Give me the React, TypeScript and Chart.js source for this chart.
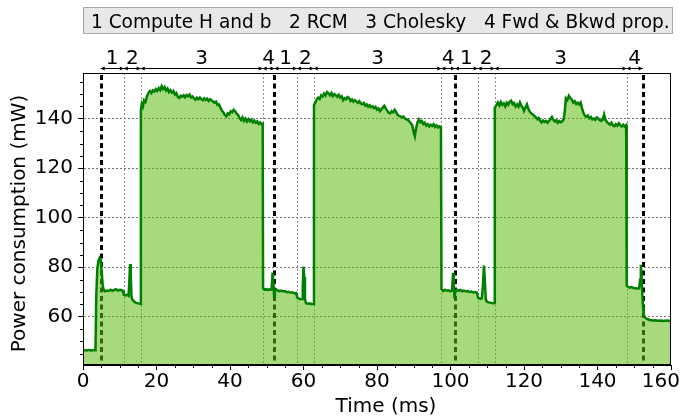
import React, { useEffect, useRef } from 'react';
import { Chart, registerables } from 'chart.js';

Chart.register(...registerables);

// ---- data (time in ms, power in mW) ----
const startIdle: [number, number][] = [
  [0, 46.3], [0.5, 46.5], [1, 46.4], [1.5, 46.6], [2, 46.5], [2.5, 46.4], [3, 46.6], [3.4, 46.5],
];
const cycle1Low: [number, number][] = [
  [3.6, 68], [3.9, 79.5], [4.2, 82.6], [4.5, 83.7], [4.8, 83.1], [5.1, 78], [5.4, 72.2], [5.7, 70.8],
  [6.0, 70.3], [6.5, 70.6], [7, 70.4], [7.5, 70.9], [8, 70.5], [8.5, 70.8], [9, 71.1], [9.5, 70.6],
  [10, 70.9], [10.5, 70.7], [10.9, 70.4], [11.1, 68.9], [11.5, 68.6], [12, 68.9], [12.4, 68.5],
  [12.6, 74], [12.8, 81.3], [13.0, 76], [13.2, 68], [13.5, 66.8], [14, 66], [14.5, 65.6], [15, 65.4],
  [15.5, 65.3], [15.65, 65.2],
];
const cycle1High: [number, number][] = [
  [15.75, 143.5], [16, 146], [16.3, 145], [16.6, 147.5], [17, 146.8], [17.4, 149], [17.8, 150.5],
  [18.2, 151.2], [18.6, 150.4], [19, 151.5], [19.4, 151], [19.8, 152], [20.2, 151.3], [20.6, 152.4],
  [21, 151.6], [21.4, 153.2], [21.8, 152], [22.2, 152.8], [22.6, 151.4], [23, 152.2], [23.4, 150.8],
  [23.8, 151.5], [24.2, 150.6], [24.6, 151.2], [25, 149.8], [25.4, 150.4], [25.8, 148.8], [26.2, 148.4],
  [26.6, 149.3], [27, 148.9], [27.4, 149.5], [27.8, 148.7], [28.2, 149.6], [28.6, 149.1], [29, 149.8],
  [29.4, 148.6], [29.8, 149], [30.2, 148.2], [30.6, 147.7], [31, 148.5], [31.4, 147.9], [31.8, 148.6],
  [32.2, 148], [32.6, 147.5], [33, 148.3], [33.4, 147.6], [33.8, 148.1], [34.2, 147.2], [34.6, 147.9],
  [35, 147.4], [35.4, 147], [35.8, 146.5], [36.2, 146.9], [36.6, 145.6], [37, 145.8], [37.4, 144.5],
  [37.8, 143.2], [38.2, 142.6], [38.6, 141.5], [39, 141], [39.4, 142.2], [39.8, 141.8], [40.2, 143],
  [40.6, 142.6], [41, 143.6], [41.4, 143], [41.8, 142.1], [42.2, 141.5], [42.6, 140.3], [43, 139.5],
  [43.4, 140.6], [43.8, 139.2], [44.2, 140.1], [44.6, 138.9], [45, 139.8], [45.4, 139], [45.8, 139.6],
  [46.2, 138.6], [46.6, 139.3], [47, 138.4], [47.4, 138.9], [47.8, 137.9], [48.2, 138.5], [48.6, 137.8],
  [48.9, 138],
];
const cycle2Low: [number, number][] = [
  [49.0, 71.5], [49.4, 70.9], [49.8, 71.2], [50.2, 70.8], [50.6, 71.1], [51, 70.9], [51.3, 71],
  [51.6, 77.8], [51.8, 74], [52.0, 68.2], [52.2, 70.5], [52.6, 71], [53, 70.6], [53.5, 70.3], [54, 70.6],
  [54.5, 70.2], [55, 70.4], [55.5, 69.9], [56, 70.1], [56.5, 69.7], [57, 69.9], [57.5, 69.5], [58, 69.6],
  [58.3, 67.8], [58.7, 67.3], [59.2, 67.1], [59.6, 67.2], [59.8, 72], [60.0, 80.3], [60.2, 76], [60.4, 67],
  [60.7, 65.5], [61.2, 65.3], [61.7, 65.4], [62.2, 65.1], [62.75, 65.2],
];
const cycle2High: [number, number][] = [
  [62.85, 145.5], [63.2, 146.5], [63.6, 147.8], [64, 148.5], [64.4, 148], [64.8, 149.5], [65.2, 149],
  [65.6, 150.2], [66, 149.4], [66.4, 150.8], [66.8, 150.3], [67.2, 149.5], [67.6, 150.4], [68, 149.2],
  [68.4, 150], [68.8, 149.5], [69.2, 148.9], [69.6, 149.7], [70, 148.6], [70.4, 149.1], [70.8, 147.5],
  [71.2, 148.3], [71.6, 147.9], [72, 148.8], [72.4, 148.4], [72.8, 147.2], [73.2, 147.8], [73.6, 146.9],
  [74, 147.5], [74.4, 147], [74.8, 146.5], [75.2, 147.1], [75.6, 146.2], [76, 145.9], [76.4, 146.4],
  [76.8, 145.3], [77.2, 145.8], [77.6, 144.9], [78, 145.5], [78.4, 144.7], [78.8, 145], [79.2, 144.3],
  [79.6, 144.8], [80, 143.7], [80.4, 144.2], [80.8, 143.1], [81.2, 143.8], [81.6, 144.6], [82, 145.2],
  [82.4, 144.1], [82.8, 143.3], [83.2, 142.4], [83.6, 142.2], [84, 143.1], [84.4, 142.6], [84.8, 143.6],
  [85.2, 142.8], [85.6, 141.6], [86, 141.2], [86.4, 141], [86.8, 140.6], [87.2, 140.9], [87.6, 140.1],
  [88, 139.8], [88.4, 139.6], [88.8, 138.9], [89.2, 138.2], [89.6, 137.4], [90, 134.5], [90.3, 133],
  [90.6, 135.8], [91, 138.5], [91.4, 139.7], [91.8, 138.6], [92.2, 139.1], [92.6, 137.9], [93, 138.4],
  [93.4, 137.2], [93.8, 137.8], [94.2, 136.9], [94.6, 137.6], [95, 137.1], [95.4, 137.8], [95.8, 136.7],
  [96.2, 137.3], [96.6, 136.5], [97, 137], [97.4, 136.6],
];
const cycle3Low: [number, number][] = [
  [97.55, 71.2], [97.8, 70.8], [98, 70.4], [98.5, 70.9], [99, 70.5], [99.5, 70.7], [100, 70.3],
  [100.4, 70.6], [100.6, 75], [100.7, 77.8], [100.9, 72], [101.1, 67.4], [101.3, 70.2], [101.7, 70.9],
  [102.2, 70.5], [102.7, 70.8], [103.2, 70.3], [103.7, 70.6], [104.2, 70.2], [104.7, 70.4], [105.2, 70],
  [105.7, 70.2], [106.2, 69.8], [106.7, 70], [107.2, 69.7], [107.5, 67.6], [108, 67.3], [108.5, 67.4],
  [108.8, 72], [109.1, 80.7], [109.3, 76], [109.6, 67], [109.9, 66.1], [110.4, 65.8], [110.9, 65.7],
  [111.4, 65.5], [111.95, 65.6],
];
const cycle3High: [number, number][] = [
  [112.05, 144.5], [112.5, 145.5], [112.9, 146.6], [113.3, 145.4], [113.7, 146.8], [114.1, 145.6],
  [114.5, 146.2], [114.9, 145], [115.3, 146.5], [115.7, 145.7], [116.1, 146.9], [116.5, 147.3],
  [116.9, 145.9], [117.3, 146.4], [117.7, 145], [118.1, 145.8], [118.5, 144.9], [118.9, 146.6],
  [119.3, 145.2], [119.7, 144.4], [120, 143.2], [120.4, 144.6], [120.8, 145.8], [121.2, 143.9],
  [121.6, 142.8], [122, 142.2], [122.4, 141.7], [122.8, 141.2], [123.2, 140.6], [123.6, 139.8],
  [124, 140.3], [124.4, 139.2], [124.8, 138.5], [125.2, 139.3], [125.6, 138.7], [126, 139.1],
  [126.4, 138.4], [126.8, 139.2], [127.2, 139.8], [127.6, 140.7], [128, 139.6], [128.4, 138.9],
  [128.8, 139.4], [129.2, 138.4], [129.6, 139.1], [130, 138.6], [130.4, 139], [130.8, 139.8],
  [131.1, 143], [131.4, 148.3], [131.8, 147.6], [132.2, 149.3], [132.6, 148.4], [133, 147.7],
  [133.4, 146.6], [133.8, 147.1], [134.2, 146], [134.6, 146.5], [135, 145.8], [135.4, 146.6],
  [135.8, 144.2], [136.2, 142.3], [136.6, 141.2], [137, 140.8], [137.4, 141.3], [137.8, 140.2],
  [138.2, 140.7], [138.6, 139.7], [139, 140.1], [139.4, 139.6], [139.8, 140.5], [140.2, 140.1],
  [140.6, 139.4], [141, 139.2], [141.4, 139.6], [141.8, 141.8], [142.2, 139.5], [142.6, 138.6],
  [143, 138.1], [143.4, 137.7], [143.8, 138.4], [144.2, 137.3], [144.6, 137], [145, 137.8],
  [145.4, 137.2], [145.8, 138.2], [146.2, 137.4], [146.6, 136.9], [147, 137.6], [147.4, 136.8],
  [147.8, 137.4],
];
const endTail: [number, number][] = [
  [147.95, 72.5], [148.3, 72.2], [148.8, 71.8], [149.3, 72], [149.8, 71.6], [150.3, 71.5], [150.8, 71.4],
  [151.3, 71.5], [151.6, 75], [151.8, 81], [152, 76], [152.2, 69], [152.4, 64], [152.6, 60.7],
  [152.9, 59.8], [153.2, 59.3], [153.7, 59], [154.2, 58.7], [155, 58.5], [155.7, 58.6], [156.5, 58.4],
  [157.3, 58.5], [158, 58.3], [158.8, 58.5], [159.5, 58.4], [160, 58.4],
];

const xTicks = [0, 20, 40, 60, 80, 100, 120, 140, 160];
const yTicks = [60, 80, 100, 120, 140];
const cycleMarks = [4.8, 52.1, 101.2, 152.3];
const phaseBounds = [
  [4.8, 11.1, 15.7, 48.9, 52.1],
  [52.1, 58.2, 62.8, 97.5, 101.2],
  [101.2, 107.4, 112.0, 147.9, 152.3],
];
const phaseLabels = ['1', '2', '3', '4'];
const legendText = '1 Compute H and b   2 RCM   3 Cholesky   4 Fwd & Bkwd prop.';
const xTitle = 'Time (ms)';
const yTitle = 'Power consumption (mW)';

const samples = [...startIdle, ...cycle1Low, ...cycle1High, ...cycle2Low, ...cycle2High, ...cycle3Low, ...cycle3High, ...endTail];

const FONT = "'DejaVu Sans', sans-serif";
const lastTick = xTicks[xTicks.length - 1];

const overlay = {
  id: 'overlay',
  beforeDatasetsDraw(chart: any) {
    const { ctx, chartArea: a, scales } = chart;
    const x = scales.x;
    ctx.save();
    ctx.beginPath();
    ctx.rect(a.left, a.top, a.right - a.left, a.bottom - a.top);
    ctx.clip();
    ctx.strokeStyle = '#8c8c8c';
    ctx.lineWidth = 1;
    ctx.setLineDash([2, 2]);
    phaseBounds.forEach((b) => {
      b.slice(1, -1).forEach((t) => {
        const px = Math.round(x.getPixelForValue(t)) + 0.5;
        ctx.beginPath();
        ctx.moveTo(px, a.top);
        ctx.lineTo(px, a.bottom);
        ctx.stroke();
      });
    });
    ctx.strokeStyle = '#000';
    ctx.lineWidth = 3;
    ctx.setLineDash([5, 3.5]);
    cycleMarks.forEach((t) => {
      const px = Math.round(x.getPixelForValue(t)) + 0.5;
      ctx.beginPath();
      ctx.moveTo(px, a.top + 2);
      ctx.lineTo(px, a.bottom);
      ctx.stroke();
    });
    ctx.restore();
  },
  afterDraw(chart: any) {
    const { ctx, chartArea: a, scales } = chart;
    const x = scales.x;
    const y = scales.y;
    ctx.save();
    // frame
    ctx.strokeStyle = '#000';
    ctx.lineWidth = 1;
    ctx.setLineDash([]);
    ctx.strokeRect(a.left + 0.5, a.top + 0.5, a.right - a.left - 1, a.bottom - a.top - 1);
    // minor ticks
    ctx.beginPath();
    for (let v = 5; v < 160; v += 5) {
      if (v % 20 === 0) continue;
      const px = Math.round(x.getPixelForValue(v)) + 0.5;
      ctx.moveTo(px, a.bottom);
      ctx.lineTo(px, a.bottom + 3);
    }
    for (let v = 45; v < 158; v += 5) {
      if (v % 20 === 0) continue;
      const py = Math.round(y.getPixelForValue(v)) + 0.5;
      ctx.moveTo(a.left, py);
      ctx.lineTo(a.left - 3, py);
    }
    ctx.stroke();

    // last x tick label kept inside the canvas
    ctx.fillStyle = '#000';
    ctx.font = `20px ${FONT}`;
    ctx.textAlign = 'right';
    ctx.textBaseline = 'middle';
    ctx.fillText(String(lastTick), 680, a.bottom + 17);

    // legend box
    ctx.fillStyle = '#e8e8e8';
    ctx.fillRect(a.left, 7, 590, 27);
    ctx.strokeStyle = '#a8a8a8';
    ctx.strokeRect(a.left + 0.5, 7.5, 589, 26);
    ctx.fillStyle = '#000';
    let fs = 18;
    ctx.font = `${fs}px ${FONT}`;
    const w = ctx.measureText(legendText).width;
    fs = fs * 579 / w;
    ctx.font = `${fs}px ${FONT}`;
    ctx.textAlign = 'left';
    ctx.textBaseline = 'alphabetic';
    ctx.fillText(legendText, 91, 27.5);

    // phase arrows
    const ay = 68.5;
    ctx.strokeStyle = '#000';
    ctx.fillStyle = '#000';
    ctx.lineWidth = 1;
    ctx.font = `20px ${FONT}`;
    ctx.textAlign = 'center';
    phaseBounds.forEach((b) => {
      for (let i = 0; i < b.length - 1; i++) {
        const x1 = x.getPixelForValue(b[i]);
        const x2 = x.getPixelForValue(b[i + 1]);
        ctx.beginPath();
        ctx.moveTo(x1, ay);
        ctx.lineTo(x2, ay);
        ctx.stroke();
        ctx.beginPath();
        ctx.moveTo(x1, ay);
        ctx.lineTo(x1 + 4, ay - 2);
        ctx.lineTo(x1 + 4, ay + 2);
        ctx.closePath();
        ctx.moveTo(x2, ay);
        ctx.lineTo(x2 - 4, ay - 2);
        ctx.lineTo(x2 - 4, ay + 2);
        ctx.closePath();
        ctx.fill();
        ctx.fillText(phaseLabels[i], (x1 + x2) / 2, 64);
      }
    });

    // axis titles
    ctx.textAlign = 'center';
    ctx.textBaseline = 'alphabetic';
    ctx.fillText(xTitle, 386, 411.5);
    ctx.translate(25, 223.5);
    ctx.rotate(-Math.PI / 2);
    ctx.fillText(yTitle, 0, 0);
    ctx.restore();
  },
};

export default function App() {
  const ref = useRef<HTMLCanvasElement | null>(null);
  useEffect(() => {
    if (!ref.current) return;
    const chart = new Chart(ref.current, {
      type: 'line',
      data: {
        datasets: [
          {
            data: samples.map(([t, p]) => ({ x: t, y: p })),
            borderColor: '#008000',
            borderWidth: 2.5,
            backgroundColor: 'rgba(93,188,17,0.55)',
            fill: 'start',
            pointRadius: 0,
            tension: 0,
          },
        ],
      },
      options: {
        animation: false,
        responsive: true,
        maintainAspectRatio: false,
        layout: { padding: { top: 73, right: 10, left: 0, bottom: 0 } },
        plugins: { legend: { display: false }, tooltip: { enabled: false }, title: { display: false } },
        scales: {
          x: {
            type: 'linear',
            min: 0,
            max: 160,
            afterFit: (s: any) => {
              s.height = 51;
              s.paddingLeft = 0;
              s.paddingRight = 0;
            },
            afterBuildTicks: (s: any) => {
              s.ticks = xTicks.map((v) => ({ value: v }));
            },
            grid: { drawOnChartArea: false, color: 'rgba(0,0,0,0)', tickColor: '#000', tickLength: 5, tickWidth: 1 },
            border: { display: true, color: '#000', width: 1 },
            ticks: {
              font: { family: FONT, size: 20 },
              color: '#000',
              padding: 0,
              maxRotation: 0,
              autoSkip: false,
              callback: (v: any) => (Number(v) === lastTick ? '' : String(v)),
            },
          },
          y: {
            type: 'linear',
            min: 40.5,
            max: 158.5,
            afterFit: (s: any) => {
              s.width = 83;
              s.paddingTop = 0;
              s.paddingBottom = 0;
            },
            afterBuildTicks: (s: any) => {
              s.ticks = yTicks.map((v) => ({ value: v }));
            },
            grid: { color: 'rgba(0,0,0,0.55)', lineWidth: 1, tickColor: '#000', tickLength: 5, tickWidth: 1 },
            border: { display: true, color: '#000', width: 1, dash: [2, 2] },
            ticks: { font: { family: FONT, size: 20 }, color: '#000', padding: 5 },
          },
        },
      },
      plugins: [overlay],
    });
    return () => chart.destroy();
  }, []);
  return (
    <div style={{ position: 'fixed', left: 0, top: 0, width: 681, height: 416 }}>
      <canvas ref={ref} />
    </div>
  );
}
